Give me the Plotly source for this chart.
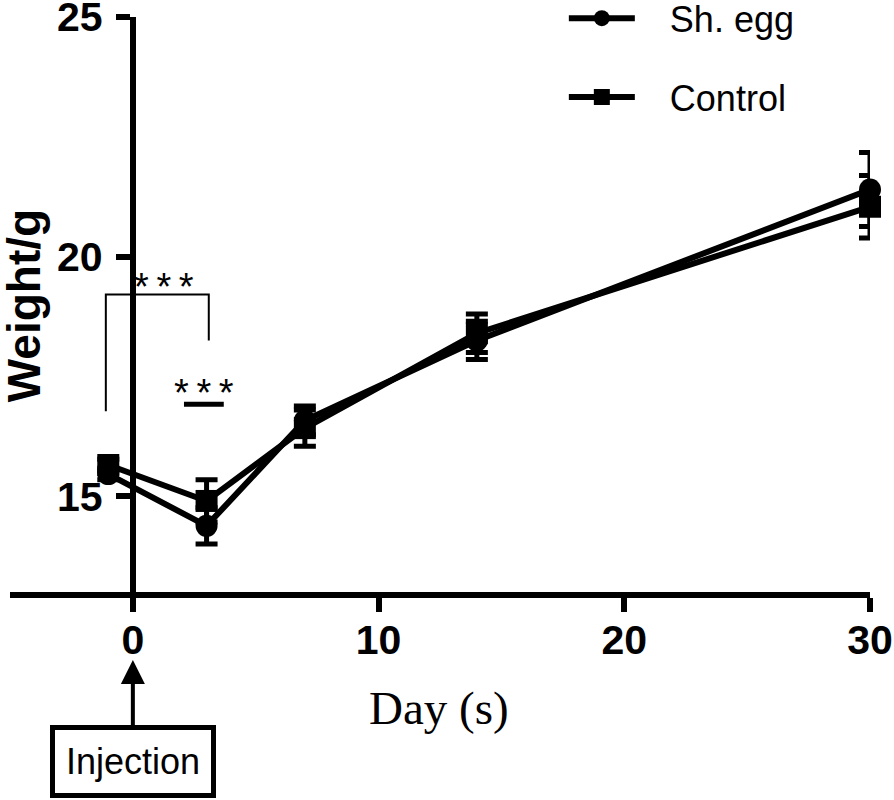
import plotly.graph_objects as go

days = [-1, 3, 7, 14, 30]
sh_egg = [15.46, 14.38, 16.58, 18.25, 21.40]
sh_egg_err = [0.12, 0.38, 0.30, 0.40, 0.77]
control = [15.65, 14.90, 16.42, 18.40, 21.04]
control_err = [0.12, 0.44, 0.38, 0.40, 0.65]

x_ticks = [0, 10, 20, 30]
y_ticks = [15, 20, 25]

BLACK = "#000000"
FONT = "Liberation Sans"
NB = "\u00a0"

fig = go.Figure()
fig.add_trace(go.Scatter(
    x=days, y=sh_egg, name=NB * 3 + "Sh. egg", legendgroup="a",
    mode="lines+markers",
    line=dict(color=BLACK, width=6),
    marker=dict(symbol="circle", size=22, color=BLACK),
    error_y=dict(type="data", array=sh_egg_err, color=BLACK, thickness=5, width=11),
    cliponaxis=False,
))
fig.add_trace(go.Scatter(
    x=days, y=control, name=NB * 3 + "Control", legendgroup="b",
    mode="lines+markers",
    line=dict(color=BLACK, width=6),
    marker=dict(symbol="square", size=22, color=BLACK),
    error_y=dict(type="data", array=control_err, color=BLACK, thickness=5, width=11),
    cliponaxis=False,
))

# significance bracket
fig.add_shape(type="path", path="M -1.1,16.77 L -1.1,19.21 L 3.09,19.21 L 3.09,18.25",
              xref="x", yref="y", line=dict(color=BLACK, width=2))
fig.add_shape(type="line", x0=2.08, x1=3.70, y0=16.92, y1=16.92,
              xref="x", yref="y", line=dict(color=BLACK, width=5))
star = "*\u2009*\u2009*"
fig.add_annotation(x=1.26, y=19.37, xref="x", yref="y", text=star, showarrow=False,
                   xanchor="center", yanchor="middle",
                   font=dict(family=FONT, size=38, color=BLACK))
fig.add_annotation(x=2.89, y=17.16, xref="x", yref="y", text=star, showarrow=False,
                   xanchor="center", yanchor="middle",
                   font=dict(family=FONT, size=38, color=BLACK))

# axis titles
fig.add_annotation(x=0.0163, y=0.497, xref="paper", yref="paper", text="Weight/g",
                   textangle=-90, showarrow=False, xanchor="center", yanchor="middle",
                   font=dict(family=FONT, size=46, color=BLACK, weight="bold"))
fig.add_annotation(x=0.499, y=-0.2017, xref="paper", yref="paper", text="Day (s)",
                   showarrow=False, xanchor="center", yanchor="middle",
                   font=dict(family="Liberation Serif", size=47, color=BLACK))

# injection arrow
fig.add_annotation(x=0, y=-0.1183, xref="x", yref="paper", text="Injection",
                   showarrow=True, ax=0, ay=101, axref="pixel", ayref="pixel",
                   xanchor="center", yanchor="middle",
                   arrowhead=2, arrowsize=1.2, arrowwidth=4, arrowcolor=BLACK,
                   bordercolor=BLACK, borderwidth=5, borderpad=11, bgcolor="white",
                   font=dict(family=FONT, size=36, color=BLACK))

fig.update_layout(
    width=894, height=800,
    margin=dict(l=10, r=24, t=17, b=208, autoexpand=False),
    paper_bgcolor="white", plot_bgcolor="white",
    showlegend=True,
    legend=dict(x=0.644, y=1.05, xref="paper", yref="paper",
                xanchor="left", yanchor="top", itemwidth=66,
                tracegroupgap=29, bgcolor="rgba(0,0,0,0)",
                font=dict(family=FONT, size=36, color=BLACK)),
    xaxis=dict(range=[-5, 30], tickvals=x_ticks, ticks="outside", ticklen=14,
               tickwidth=6, tickcolor=BLACK, showline=True, linewidth=6,
               linecolor=BLACK, showgrid=False, zeroline=False, automargin=False,
               ticklabeloverflow="allow", ticklabelstandoff=-7,
               tickfont=dict(family=FONT, size=41, color=BLACK, weight="bold")),
    yaxis=dict(range=[13.0, 25], tickvals=y_ticks, ticks="outside", ticklen=14,
               tickwidth=6, tickcolor=BLACK, showline=True, linewidth=6,
               linecolor=BLACK, showgrid=False, zeroline=False, automargin=False,
               anchor="free", position=5 / 35,
               ticklabeloverflow="allow", ticklabelstandoff=5,
               tickfont=dict(family=FONT, size=41, color=BLACK, weight="bold")),
)

# remove the browser's default 8px body margin so the 894x800 figure fills the window
fig.write_html("out.html", config={"displayModeBar": False},
               post_script="document.body.style.margin='0px';")
